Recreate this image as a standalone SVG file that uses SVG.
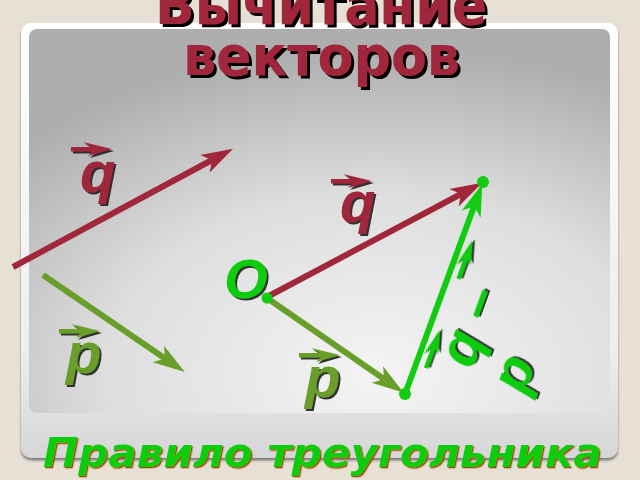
<svg xmlns="http://www.w3.org/2000/svg" xmlns:xlink="http://www.w3.org/1999/xlink" width="640" height="480" viewBox="0 0 640 480">
<style>
.title{font-family:"DejaVu Sans","Liberation Sans",sans-serif;font-weight:bold;fill:#A0283A;filter:url(#tsh)}
.letter{font-family:"Liberation Sans",Arial,sans-serif;font-weight:bold;font-style:italic;font-size:58px;filter:url(#lsh)}
.rule{font-family:"DejaVu Sans","Liberation Sans",sans-serif;font-weight:bold;font-style:italic;font-size:41px;fill:#11CC11;filter:url(#gsh)}
.q{fill:#A0283A}
.p{fill:#6A9E2A}
.g{fill:#11CC11}
.vline{fill:none;stroke-width:6;stroke-linecap:butt}
</style>
<defs>
<radialGradient id="inner" cx="0.6" cy="0.9" r="0.85">
<stop offset="0" stop-color="#F4F4F4"/>
<stop offset="0.55" stop-color="#DEDEDE"/>
<stop offset="1" stop-color="#AEAEAE"/>
</radialGradient>
<linearGradient id="outer" x1="0" y1="0" x2="0" y2="1">
<stop offset="0" stop-color="#FFFFFF"/>
<stop offset="0.75" stop-color="#EEEEEE"/>
<stop offset="1" stop-color="#D6D6D6"/>
</linearGradient>
<filter id="fsh" x="-5%" y="-5%" width="110%" height="115%"><feDropShadow dx="0" dy="2.5" stdDeviation="1" flood-color="#666" flood-opacity="0.8"/></filter>
<filter id="tsh" x="-10%" y="-20%" width="120%" height="150%"><feDropShadow dx="3" dy="3" stdDeviation="0.4" flood-color="#000"/></filter>
<filter id="lsh" x="-20%" y="-20%" width="140%" height="140%"><feDropShadow dx="2" dy="2" stdDeviation="0.6" flood-color="#1a1a1a" flood-opacity="0.9"/></filter>
<filter id="gsh" x="-5%" y="-20%" width="110%" height="150%"><feDropShadow dx="1.3" dy="1.3" stdDeviation="0.3" flood-color="#A04A10"/></filter>
<marker id="ahQ" markerUnits="userSpaceOnUse" markerWidth="40" markerHeight="30" refX="0" refY="0" orient="auto" overflow="visible"><path d="M24,0 L-8,-10 L0,0 L-8,10 Z" fill="#A0283A"/></marker>
<marker id="ahP" markerUnits="userSpaceOnUse" markerWidth="40" markerHeight="30" refX="0" refY="0" orient="auto" overflow="visible"><path d="M24,0 L-8,-10 L0,0 L-8,10 Z" fill="#6A9E2A"/></marker>
<marker id="ahG" markerUnits="userSpaceOnUse" markerWidth="40" markerHeight="30" refX="0" refY="0" orient="auto" overflow="visible"><path d="M24,0 L-8,-10 L0,0 L-8,10 Z" fill="#11CC11"/></marker>
<g id="vec"><rect x="-41" y="-2" width="25" height="4.5"/><path d="M0,0 L-29,-7 L-17,0 L-24,7 Z"/></g>
</defs>

<rect x="0" y="0" width="640" height="480" fill="#E7E0D5"/>

<g id="frame">
<rect x="21" y="23" width="597" height="435" rx="10" fill="url(#outer)" filter="url(#fsh)"/>
<rect x="29" y="29" width="581" height="384" rx="8" fill="url(#inner)"/>
</g>

<g id="connectors">
<line class="vline" x1="13" y1="267" x2="212" y2="160" stroke="#A0283A" marker-end="url(#ahQ)"/>
<line class="vline" x1="43" y1="275" x2="165" y2="358.5" stroke="#6A9E2A" marker-end="url(#ahP)"/>
<line class="vline" x1="267" y1="297" x2="461" y2="194" stroke="#A0283A" marker-end="url(#ahQ)"/>
<line class="vline" x1="267" y1="298" x2="384" y2="379" stroke="#6A9E2A" marker-end="url(#ahP)"/>
<line class="vline" x1="405" y1="394" x2="474" y2="206.5" stroke="#11CC11" marker-end="url(#ahG)"/>
</g>

<g id="points" class="g">
<circle cx="267" cy="298" r="5.5"/>
<circle cx="405" cy="394" r="6"/>
<circle cx="483" cy="182" r="6"/>
</g>

<g id="label-q-left">
<use xlink:href="#vec" href="#vec" x="112" y="149" class="q" filter="url(#lsh)"/>
<text class="letter q" x="80" y="192">q</text>
</g>
<g id="label-p-left">
<use xlink:href="#vec" href="#vec" x="100" y="331" class="p" filter="url(#lsh)"/>
<text class="letter p" x="66" y="373">p</text>
</g>
<g id="label-O">
<text class="letter g" x="224" y="298" style="font-size:56px">O</text>
</g>
<g id="label-q-right">
<use xlink:href="#vec" href="#vec" x="372" y="181" class="q" filter="url(#lsh)"/>
<text class="letter q" x="340" y="222">q</text>
</g>
<g id="label-p-right">
<use xlink:href="#vec" href="#vec" x="340" y="355" class="p" filter="url(#lsh)"/>
<text class="letter p" x="305" y="397">p</text>
</g>
<g id="label-diff" transform="translate(472,370) rotate(-70)">
<use xlink:href="#vec" href="#vec" x="27" y="-44" class="g" filter="url(#lsh)"/>
<use xlink:href="#vec" href="#vec" x="122" y="-44" class="g" filter="url(#lsh)"/>
<text class="letter g" x="0" y="0" style="font-size:56px"><tspan x="0" y="0">q –</tspan><tspan x="-6" y="58">p</tspan></text>
</g>

<g id="title">
<text class="title" x="155" y="24" font-size="56" textLength="332" lengthAdjust="spacingAndGlyphs">Вычитание</text>
<text class="title" x="183" y="75" font-size="56" textLength="277" lengthAdjust="spacingAndGlyphs">векторов</text>
</g>

<g id="subtitle">
<text class="rule" x="43" y="467" textLength="559" lengthAdjust="spacingAndGlyphs">Правило треугольника</text>
</g>
</svg>
